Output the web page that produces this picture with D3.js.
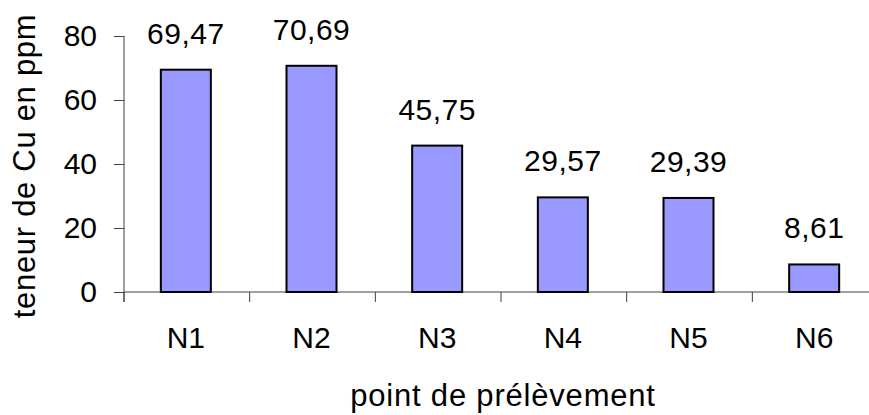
<!DOCTYPE html>
<html>
<head>
<meta charset="utf-8">
<script src="https://cdn.jsdelivr.net/npm/d3@7"></script>
<style>
  html, body { margin: 0; padding: 0; background: #fff; }
  svg { display: block; font-family: "Liberation Sans", Arial, sans-serif; }
</style>
</head>
<body>
<svg id="chart" width="869" height="415"></svg>
<script>
// Copper content per sampling point
const categories = ["N1", "N2", "N3", "N4", "N5", "N6"];
const values = [69.47, 70.69, 45.75, 29.57, 29.39, 8.61];
const yTicks = [0, 20, 40, 60, 80];

const svg = d3.select("#chart");
const plotLeft = 124, plotRight = 878, plotTop = 36, plotBottom = 292;

const x = d3.scaleBand().domain(categories).range([plotLeft, plotRight]).padding(0);
const y = d3.scaleLinear().domain([0, 80]).range([plotBottom, plotTop]);

const axisColor = "#404040";
const fontSize = 30;
const titleSize = 31;

// y axis
const yAxis = svg.append("g")
  .attr("transform", `translate(${plotLeft},0)`)
  .call(d3.axisLeft(y).tickValues(yTicks).tickSize(10).tickPadding(17).tickFormat(d3.format("d")));
yAxis.select(".domain").attr("stroke", axisColor).attr("d", `M0,${plotTop}V${plotBottom + 10}`);
yAxis.selectAll(".tick line").attr("stroke", axisColor);
yAxis.selectAll(".tick text")
  .attr("fill", "#000")
  .style("font-size", fontSize + "px")
  .style("font-family", "Liberation Sans, Arial, sans-serif");

// x axis with ticks at category boundaries
const xg = svg.append("g");
xg.append("line")
  .attr("x1", plotLeft).attr("x2", plotRight)
  .attr("y1", plotBottom).attr("y2", plotBottom)
  .attr("stroke", axisColor);
const boundaries = categories.map(c => x(c)).concat([x(categories[categories.length - 1]) + x.bandwidth()]);
xg.selectAll("line.xt").data(boundaries).enter().append("line")
  .attr("class", "xt")
  .attr("x1", d => d).attr("x2", d => d)
  .attr("y1", plotBottom).attr("y2", plotBottom + 10)
  .attr("stroke", axisColor);

// bars
const barW = 50;
svg.append("g").selectAll("rect").data(values).enter().append("rect")
  .attr("x", (d, i) => x(categories[i]) + x.bandwidth() / 2 - barW / 2 - 1)
  .attr("y", d => y(d))
  .attr("width", barW)
  .attr("height", d => y(0) - y(d))
  .attr("fill", "#9999FF")
  .attr("stroke", "#000")
  .attr("stroke-width", 2);

// value labels
const fr = d => d.toFixed(2).replace(".", ",");
svg.append("g").selectAll("text").data(values).enter().append("text")
  .attr("x", (d, i) => x(categories[i]) + x.bandwidth() / 2 - 1)
  .attr("y", d => y(d) - 26)
  .attr("text-anchor", "middle")
  .style("font-size", fontSize + "px")
  .style("letter-spacing", "0.5px")
  .text(fr);

// category labels
svg.append("g").selectAll("text").data(categories).enter().append("text")
  .attr("x", d => x(d) + x.bandwidth() / 2 - 1)
  .attr("y", 348)
  .attr("text-anchor", "middle")
  .style("font-size", fontSize + "px")
  .text(d => d);

// axis titles
svg.append("text")
  .attr("x", 503)
  .attr("y", 406)
  .attr("text-anchor", "middle")
  .style("font-size", titleSize + "px")
  .style("letter-spacing", "0.8px")
  .text("point de prélèvement");

svg.append("text")
  .attr("transform", `translate(35,166) rotate(-90)`)
  .attr("text-anchor", "middle")
  .style("font-size", titleSize + "px")
  .style("letter-spacing", "0.7px")
  .text("teneur de Cu en ppm");
</script>
</body>
</html>
